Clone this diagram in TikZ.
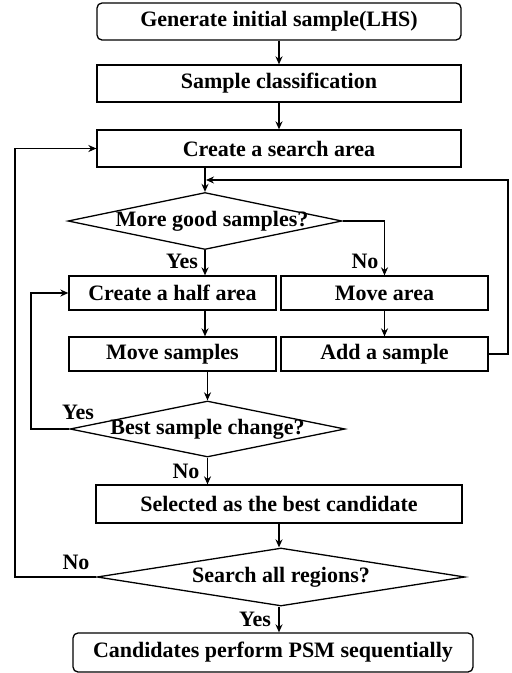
\documentclass[tikz,border=0pt]{standalone}
\usepackage{fontspec}
\setmainfont{Liberation Serif}
\usetikzlibrary{shapes.geometric,arrows.meta}

\begin{document}
\begin{tikzpicture}[x=1pt, y=-1pt, line width=1.3pt, >={Stealth[length=8pt,width=7pt]},
    every node/.style={font=\bfseries\fontsize{22}{24}\selectfont, inner sep=0pt},
    box/.style={draw, rectangle, minimum height=37pt},
    rbox/.style={box, rounded corners=5pt},
    dec/.style={draw, diamond}]
        \useasboundingbox (0,0) rectangle (512,673);

        \node[rbox, minimum width=364pt] (gen) at (279, 21.5) {Generate initial sample(LHS)};
        \node[box, minimum width=364pt] (cls) at (279, 83.5) {Sample classification};
        \node[box, minimum width=364pt] (area) at (279, 148.5) {Create a search area};
        \node[dec, minimum width=274pt, minimum height=57pt] (good) at (205, 221) {\makebox[0pt]{\hspace{14pt}More good samples?}};
        \node[box, minimum width=207pt, minimum height=34pt] (half) at (172.5, 293) {Create a half area};
        \node[box, minimum width=207pt, minimum height=34pt] (marea) at (384.5, 293) {Move area};
        \node[box, minimum width=207pt, minimum height=34pt] (msamp) at (172.5, 354) {Move samples};
        \node[box, minimum width=207pt, minimum height=34pt] (add) at (384.5, 354) {Add a sample};
        \node[dec, minimum width=275pt, minimum height=56pt] (best) at (207.5, 429) {\makebox[0pt]{Best sample change?}};
        \node[box, minimum width=366pt, minimum height=38pt] (sel) at (279, 504) {Selected as the best candidate};
        \node[dec, minimum width=368pt, minimum height=58pt] (all) at (281, 577) {\makebox[0pt]{Search all regions?}};
        \node[rbox, minimum width=400pt, minimum height=39pt] (cand) at (273, 652.5) {Candidates perform PSM sequentially};

        \node (yes1) at (182, 261) {Yes};
        \node (no1) at (365, 261) {No};
        \node (yes2) at (78, 412) {Yes};
        \node (no2) at (186, 471) {No};
        \node (no3) at (76, 562) {No};
        \node (yes3) at (255, 619) {Yes};

        \coordinate (rtop) at (508, 180);
        \coordinate (join) at (206, 180);
        \coordinate (lyes) at (31, 429);
        \coordinate (lno) at (15, 577);

        \draw[->] (gen) -- (cls);
        \draw[->] (cls) -- (area);
        \draw[->] (good.north |- area.south) -- (good.north);
        \draw[->] (add.east) -| (rtop) -- (join);
        \draw[->] (good.east) -| (marea.north);
        \draw[->] (good.south) -- (good.south |- half.north);
        \draw[->] (good.south |- half.south) -- (good.south |- msamp.north);
        \draw[->] (marea) -- (add);
        \draw[->] (best.north |- msamp.south) -- (best.north);
        \draw[->] (best.west) -- (lyes) |- (half.west);
        \draw[->] (best.south) -- (best.south |- sel.north);
        \draw[->] (sel.south) -- (sel.south |- all.north);
        \draw[->] (all.west) -- (lno) |- (area.west);
        \draw[->] (sel.south |- all.south) -- (sel.south |- cand.north);
    \end{tikzpicture}
\end{document}
